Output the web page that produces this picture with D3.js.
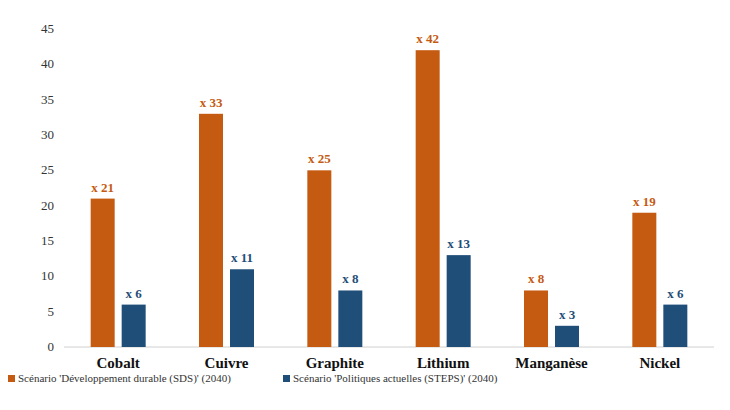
<!DOCTYPE html>
<html><head><meta charset="utf-8">
<script src="https://cdn.jsdelivr.net/npm/d3@7/dist/d3.min.js"></script>
<style>body{margin:0;background:#fff}svg{font-family:"Liberation Serif","Times New Roman",serif}</style>
</head><body><svg id="c" width="730" height="410"></svg>
<script>
const categories=["Cobalt","Cuivre","Graphite","Lithium","Manganèse","Nickel"];
const sds=[21,33,25,42,8,19];
const steps=[6,11,8,13,3,6];
const yTicks=[0,5,10,15,20,25,30,35,40,45];
const seriesNames=["Scénario 'Développement durable (SDS)' (2040)","Scénario 'Politiques actuelles (STEPS)' (2040)"];
const colors=["#C55A11","#1F4E79"];
const svg=d3.select("#c");
const x=d3.scaleBand().domain(categories).range([64,714]);
const y=d3.scaleLinear().domain([0,45]).range([347,29]);
const bw=24,gap=7;
svg.append("line").attr("x1",64).attr("x2",714).attr("y1",y(0)).attr("y2",y(0)).attr("stroke","#d0d0d0");
svg.selectAll(".yt").data(yTicks).join("text").attr("x",54).attr("y",d=>y(d)+4).attr("text-anchor","end").attr("font-size",13).attr("fill","#333").text(d=>d);
[sds,steps].forEach((arr,si)=>{
  const off=si===0?-(bw+gap/2):gap/2;
  const g=svg.append("g");
  g.selectAll("rect").data(arr).join("rect").attr("x",(d,i)=>x(categories[i])+x.bandwidth()/2+off).attr("width",bw)
    .attr("y",d=>y(d)).attr("height",d=>y(0)-y(d)).attr("fill",colors[si]);
  g.selectAll("text").data(arr).join("text").attr("x",(d,i)=>x(categories[i])+x.bandwidth()/2+off+bw/2).attr("y",d=>y(d)-7)
    .attr("text-anchor","middle").attr("font-size",13).attr("font-weight","bold").attr("fill",colors[si]).text(d=>"x "+d);
});
svg.selectAll(".xl").data(categories).join("text").attr("x",d=>x(d)+x.bandwidth()/2).attr("y",368).attr("text-anchor","middle")
  .attr("font-size",15).attr("font-weight","bold").attr("fill","#111").text(d=>d);
const lx=[8,283];
seriesNames.forEach((n,i)=>{
  svg.append("rect").attr("x",lx[i]).attr("y",375).attr("width",7).attr("height",7).attr("fill",colors[i]);
  svg.append("text").attr("x",lx[i]+10).attr("y",382).attr("font-size",11).attr("fill","#333").text(n);
});
</script></body></html>
